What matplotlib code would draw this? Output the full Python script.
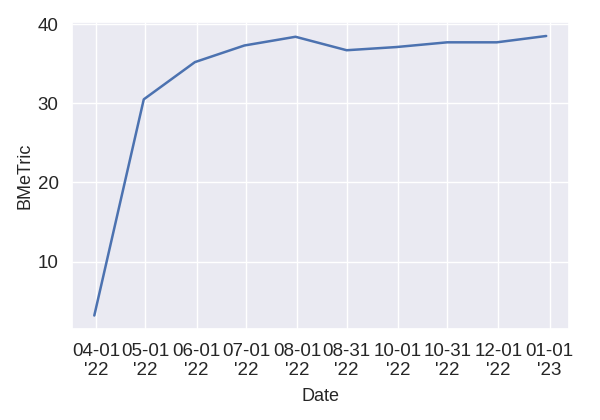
import matplotlib
matplotlib.use("Agg")
import matplotlib.pyplot as plt
import matplotlib.dates as mdates
import seaborn as sns
import pandas as pd

dates = ["2022-03-31", "2022-04-30", "2022-05-31", "2022-06-30", "2022-07-31",
         "2022-08-31", "2022-09-30", "2022-10-31", "2022-11-30", "2022-12-30"]
values = [3.2, 30.5, 35.2, 37.3, 38.4, 36.7, 37.1, 37.7, 37.7, 38.5]
tick_dates = ["2022-04-01", "2022-05-01", "2022-06-01", "2022-07-01", "2022-08-01",
              "2022-08-31", "2022-10-01", "2022-10-31", "2022-12-01", "2023-01-01"]

sns.set_theme(style="darkgrid")
plt.rcParams['font.family'] = ['Liberation Sans', 'DejaVu Sans']

fig = plt.figure(figsize=(6, 4.2), dpi=100)
ax = fig.add_axes([0.1195, 0.2155, 0.8285, 0.7321])
x = pd.to_datetime(dates)
ax.plot(x, values, color="#4C72B0", linewidth=1.8)
ax.set_xticks(pd.to_datetime(tick_dates))
ax.xaxis.set_major_formatter(mdates.DateFormatter("%m-%d\n'%y"))
ax.set_yticks([10, 20, 30, 40])
ax.tick_params(labelsize=13.5, colors="#262626")
for lbl in ax.get_xticklabels():
    lbl.set_horizontalalignment("center")
ax.set_xlabel("Date", fontsize=13, color="#262626", labelpad=6.5)
ax.set_ylabel("BMeTric", fontsize=13, color="#262626", labelpad=3)
fig.savefig("out.png", dpi=100)
